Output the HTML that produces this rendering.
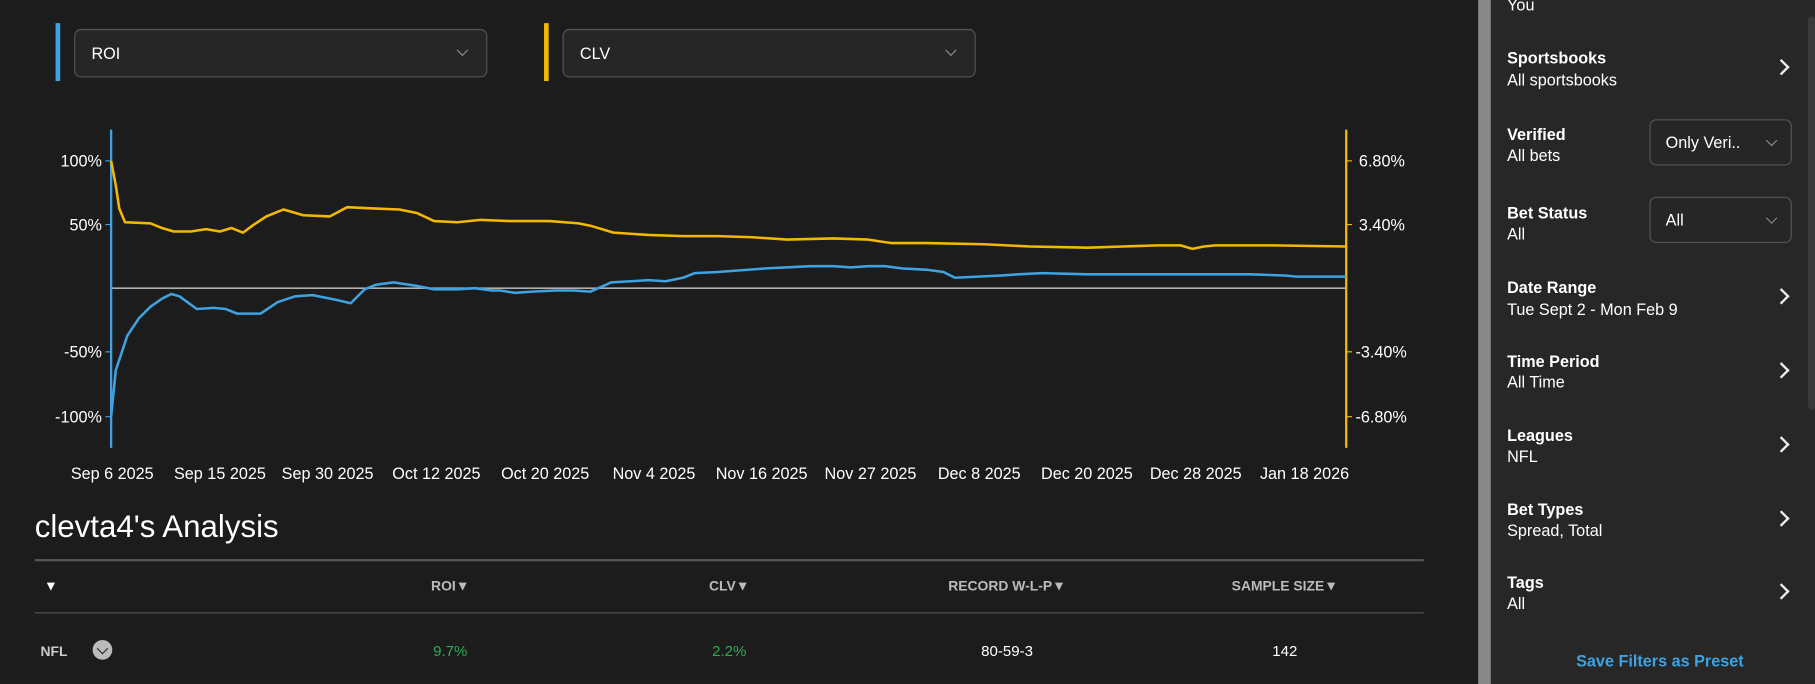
<!DOCTYPE html>
<html><head><meta charset="utf-8"><style>
html,body{margin:0;padding:0;background:#1c1c1c;width:1815px;height:684px;overflow:hidden}
#w{position:absolute;left:0;top:0;width:1568px;height:591px;transform:scale(1.15753,1.1574);transform-origin:0 0;font-family:"Liberation Sans",sans-serif;color:#fff}
.a{position:absolute}
.dd{position:absolute;border:1px solid #555;border-radius:6px;background:#262626;box-sizing:border-box}
.side{position:absolute;left:1288px;top:0;width:280px;height:591px;background:#272727}
.t{position:absolute;left:14px;font-size:14px;font-weight:bold;color:#fff}
.s{position:absolute;left:14px;font-size:14px;color:#fff}
.ch{position:absolute;left:246px;width:8px;height:8px;border-right:2px solid #eee;border-top:2px solid #eee;transform:rotate(45deg)}
.dv{position:absolute;width:6px;height:6px;border-right:1.5px solid #888;border-bottom:1.5px solid #888;transform:rotate(45deg)}
.th{position:absolute;top:499px;font-size:12px;font-weight:bold;color:#bbb;transform:translateX(-50%)}
.td{position:absolute;top:555px;font-size:13px;transform:translateX(-50%)}
</style></head><body><div id="w">
<div class="a" style="left:48px;top:20px;width:4px;height:50px;background:#3ea3e0"></div>
<div class="dd" style="left:64px;top:25px;width:357px;height:42px"><span class="a" style="left:14px;top:12px;font-size:14px">ROI</span><span class="dv" style="left:331px;top:14px"></span></div>
<div class="a" style="left:470px;top:20px;width:4px;height:50px;background:#f5b800"></div>
<div class="dd" style="left:486px;top:25px;width:357px;height:42px"><span class="a" style="left:14px;top:12px;font-size:14px">CLV</span><span class="dv" style="left:331px;top:14px"></span></div>
<svg class="a" style="left:0;top:0" width="1280" height="430" viewBox="0 0 1280 430">
<line x1="96" y1="249" x2="1163" y2="249" stroke="#b0b0b0" stroke-width="1.5"/>
<line x1="96" y1="112" x2="96" y2="387" stroke="#3ea3e0" stroke-width="2"/>
<line x1="1163" y1="112" x2="1163" y2="387" stroke="#f5b800" stroke-width="2"/>
<g stroke="#3ea3e0" stroke-width="1"><line x1="91" y1="139" x2="96" y2="139"/><line x1="91" y1="194" x2="96" y2="194"/><line x1="91" y1="304" x2="96" y2="304"/><line x1="91" y1="360" x2="96" y2="360"/></g>
<g stroke="#f5b800" stroke-width="1"><line x1="1163" y1="139" x2="1168" y2="139"/><line x1="1163" y1="194" x2="1168" y2="194"/><line x1="1163" y1="304" x2="1168" y2="304"/><line x1="1163" y1="360" x2="1168" y2="360"/></g>
<g font-family="Liberation Sans" font-size="14" fill="#fff" text-anchor="end"><text x="88" y="144">100%</text><text x="88" y="199">50%</text><text x="88" y="309">-50%</text><text x="88" y="365">-100%</text></g>
<g font-family="Liberation Sans" font-size="14" fill="#fff"><text x="1174" y="144">6.80%</text><text x="1174" y="199">3.40%</text><text x="1171" y="309">-3.40%</text><text x="1171" y="365">-6.80%</text></g>
<polyline fill="none" stroke="#f5b800" stroke-width="2.2" stroke-linejoin="round" points="96,139 100,160 103,180 108,192 130,193 140,197 150,200 165,200 178,198 190,200 200,197 210,201 218,195 230,187 245,181 262,186 285,187 300,179 320,180 345,181 360,184 375,191 395,192 415,190 440,191 475,191 500,193 510,195 530,201 560,203 590,204 620,204 650,205 680,207 720,206 750,207 770,210 800,210 850,211 890,213 940,214 970,213 1000,212 1020,212 1030,215 1040,213 1050,212 1100,212 1163,213"/>
<polyline fill="none" stroke="#3ea3e0" stroke-width="2.2" stroke-linejoin="round" points="96,360 100,320 110,290 120,275 130,265 140,258 148,254 155,256 170,267 185,266 195,267 205,271 225,271 240,261 255,256 270,255 290,259 303,262 315,250 325,246 340,244 360,247 375,250 395,250 410,249 425,251 432,251 445,253 460,252 480,251 495,251 510,252 528,244 545,243 560,242 575,243 590,240 600,236 620,235 660,232 700,230 720,230 735,231 750,230 765,230 780,232 800,233 815,235 825,240 845,239 865,238 880,237 900,236 940,237 980,237 1000,237 1040,237 1080,237 1110,238 1120,239 1135,239 1163,239"/>
<g font-family="Liberation Sans" font-size="14" fill="#fff" text-anchor="middle">
<text x="97" y="414">Sep 6 2025</text><text x="190" y="414">Sep 15 2025</text><text x="283" y="414">Sep 30 2025</text><text x="377" y="414">Oct 12 2025</text><text x="471" y="414">Oct 20 2025</text><text x="565" y="414">Nov 4 2025</text><text x="658" y="414">Nov 16 2025</text><text x="752" y="414">Nov 27 2025</text><text x="846" y="414">Dec 8 2025</text><text x="939" y="414">Dec 20 2025</text><text x="1033" y="414">Dec 28 2025</text><text x="1127" y="414">Jan 18 2026</text></g>
</svg>
<div class="a" style="left:30px;top:440px;font-size:27px">clevta4's Analysis</div>
<div class="a" style="left:30px;top:483px;width:1200px;height:2px;background:#555"></div>
<div class="a" style="left:30px;top:529px;width:1200px;height:1px;background:#555"></div>
<div class="a" style="left:38px;top:499px;font-size:12px;color:#fff">&#9660;</div>
<div class="th" style="left:389px">ROI&#9660;</div>
<div class="th" style="left:630px">CLV&#9660;</div>
<div class="th" style="left:870px">RECORD W-L-P&#9660;</div>
<div class="th" style="left:1110px">SAMPLE SIZE&#9660;</div>
<div class="a" style="left:35px;top:556px;font-size:12px;font-weight:bold;color:#ccc">NFL</div>
<div class="a" style="left:80px;top:553px;width:17px;height:17px;border-radius:50%;background:#bbb"><span class="dv" style="left:5px;top:4px;border-color:#333"></span></div>
<div class="td" style="left:389px;color:#2eaa55">9.7%</div>
<div class="td" style="left:630px;color:#2eaa55">2.2%</div>
<div class="td" style="left:870px">80-59-3</div>
<div class="td" style="left:1110px">142</div>
<div class="a" style="left:1277px;top:0;width:11px;height:591px;background:#888"></div>
<div class="side">
<div class="s" style="top:-4px">You</div>
<div class="t" style="top:42px">Sportsbooks</div><div class="s" style="top:61px">All sportsbooks</div><div class="ch" style="top:53px"></div>
<div class="t" style="top:108px">Verified</div><div class="s" style="top:126px">All bets</div>
<div class="dd" style="left:137px;top:103px;width:123px;height:40px;background:#262626"><span class="a" style="left:13px;top:11px;font-size:14px">Only Veri..</span><span class="dv" style="left:101px;top:14px"></span></div>
<div class="t" style="top:176px">Bet Status</div><div class="s" style="top:194px">All</div>
<div class="dd" style="left:137px;top:170px;width:123px;height:40px;background:#262626"><span class="a" style="left:13px;top:11px;font-size:14px">All</span><span class="dv" style="left:101px;top:14px"></span></div>
<div class="t" style="top:240px">Date Range</div><div class="s" style="top:259px">Tue Sept 2 - Mon Feb 9</div><div class="ch" style="top:251px"></div>
<div class="t" style="top:304px">Time Period</div><div class="s" style="top:322px">All Time</div><div class="ch" style="top:315px"></div>
<div class="t" style="top:368px">Leagues</div><div class="s" style="top:386px">NFL</div><div class="ch" style="top:379px"></div>
<div class="t" style="top:432px">Bet Types</div><div class="s" style="top:450px">Spread, Total</div><div class="ch" style="top:443px"></div>
<div class="t" style="top:495px">Tags</div><div class="s" style="top:513px">All</div><div class="ch" style="top:506px"></div>
<div class="a" style="left:0;width:292px;top:563px;text-align:center;font-size:14px;font-weight:bold;color:#3ea3e0">Save Filters as Preset</div>
<div class="a" style="left:274px;top:14px;width:6px;height:340px;background:#3a3a3a;border-radius:3px"></div>
</div>
</div></body></html>
